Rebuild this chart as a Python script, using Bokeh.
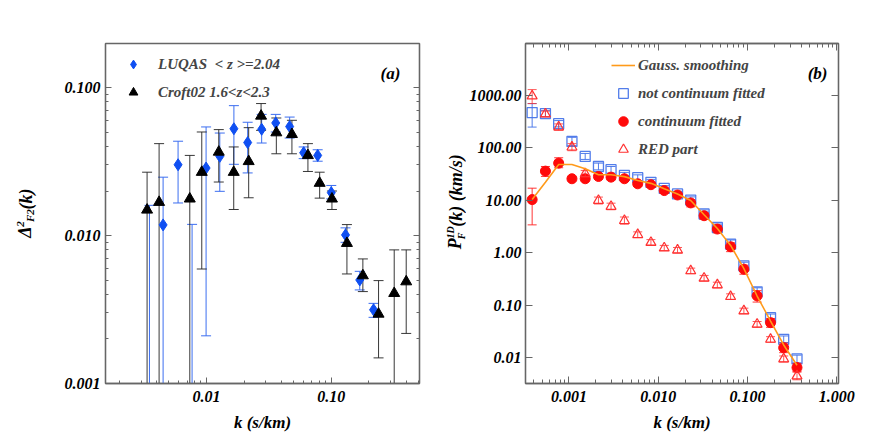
import math
from bokeh.plotting import figure
from bokeh.models import (FixedTicker, LogAxis, CustomJSTickFormatter, Label,
                          Legend, LegendItem, Range1d)
from bokeh.layouts import row
from bokeh.embed import file_html
from bokeh.resources import INLINE

# ---------------- data: panel (a) ----------------
luqas_k = [0.00350, 0.00450, 0.00593, 0.00768, 0.00994, 0.0128, 0.0166, 0.0214, 0.0277,
           0.0359, 0.0464, 0.0601, 0.0778, 0.100, 0.130, 0.169, 0.218]
luqas_d = [0.0004, 0.0118, 0.0301, 0.0004, 0.0286, 0.0343, 0.0527, 0.0425, 0.0523,
           0.0577, 0.0545, 0.0363, 0.0348, 0.0195, 0.0101, 0.00501, 0.00315]
luqas_lo = [0.0001, 0.0001, 0.0166, 0.0001, 0.0021, 0.0199, 0.0303, 0.0265, 0.0422,
            0.0501, 0.0456, 0.0331, 0.0318, 0.0177, 0.0090, 0.00429, 0.00280]
luqas_hi = [0.0160, 0.0248, 0.0434, 0.0119, 0.0542, 0.0493, 0.0755, 0.0583, 0.0659,
            0.0659, 0.0632, 0.0397, 0.0380, 0.0218, 0.01127, 0.00573, 0.00348]

croft_k = [0.00335, 0.00418, 0.00736, 0.00918, 0.01256, 0.01655, 0.0218, 0.0274, 0.0363,
           0.0484, 0.0650, 0.0807, 0.1012, 0.1334, 0.179, 0.239, 0.319, 0.398]
croft_d = [0.0149, 0.0168, 0.0177, 0.0268, 0.0367, 0.0268, 0.0317, 0.0643, 0.0496,
           0.0483, 0.0348, 0.0226, 0.0177, 0.00887, 0.00536, 0.00295, 0.00407, 0.00488]
croft_lo = [0.0001, 0.0001, 0.0001, 0.00594, 0.0230, 0.0150, 0.0180, 0.0514, 0.0357,
            0.0357, 0.0271, 0.0179, 0.0150, 0.0055, 0.00418, 0.00149, 0.0001, 0.00218]
croft_hi = [0.0268, 0.0418, 0.0348, 0.0501, 0.0520, 0.0397, 0.0536, 0.0780, 0.0623,
            0.0601, 0.0418, 0.0268, 0.0200, 0.01186, 0.00695, 0.00496, 0.0080, 0.0080]

# ---------------- data: panel (b) ----------------
pk_k = [0.000387, 0.000545, 0.000767, 0.00108, 0.00152, 0.00214, 0.00296, 0.00418,
        0.00589, 0.00828, 0.01167, 0.01644, 0.0231, 0.0326, 0.0459, 0.0646, 0.0910,
        0.128, 0.181, 0.254, 0.358]
raw_p = [468, 448, 288, 132, 68.5, 44, 38.2, 29.7, 26.9, 22.0, 16.8, 13.2, 10.1, 5.47,
         3.03, 1.46, 0.563, 0.180, 0.058, 0.0224, 0.0095]
raw_lo = [248, 390, 250, 110, 60, 38, 33, 26, 23.5, 19.5, 15, 11.8, 8.8, 4.8, 2.6, 1.2,
          0.47, 0.15, 0.05, 0.0195, 0.008]
raw_hi = [695, 510, 330, 158, 78, 51, 44, 34, 30.5, 25, 19, 14.8, 11.6, 6.2, 3.5, 1.75,
          0.66, 0.215, 0.068, 0.026, 0.0112]
fit_p = [10.3, 35.9, 51, 25.7, 25.7, 28.4, 27.6, 25.7, 20.6, 19.8, 15.3, 12.6, 8.9, 5.08,
         2.83, 1.30, 0.487, 0.151, 0.0466, 0.0155, 0.0065]
fit_lo = [3.4, 28.5, 41.7, 23.5, 23.5, 25, 24.5, 23, 18.5, 17.5, 13.8, 11.3, 7.5, 4.4,
          2.4, 1.05, 0.39, 0.115, 0.038, 0.0125, 0.0055]
fit_hi = [17.0, 44, 64.6, 28, 28, 32, 31, 29, 23, 22, 17, 14, 10.3, 5.8, 3.3, 1.55,
          0.58, 0.19, 0.056, 0.019, 0.0078]
red_p = [970, 440, 248, 103, 32, 9.9, 7.6, 4.1, 2.21, 1.57, 1.23, 1.12, 0.452, 0.327,
         0.244, 0.146, 0.078, 0.0433, 0.0224, 0.0095, 0.0045]
red_lo = [695, 390, 215, 88, 28, 8.5, 6.6, 3.5, 1.95, 1.4, 1.1, 1.0, 0.40, 0.29, 0.215,
          0.13, 0.069, 0.038, 0.0198, 0.0083, 0.0038]
red_hi = [1284, 500, 285, 120, 37, 11.5, 8.8, 4.8, 2.5, 1.78, 1.38, 1.26, 0.51, 0.37,
          0.275, 0.165, 0.088, 0.049, 0.0252, 0.0108, 0.0053]
smooth_p = [10.3, 22, 48, 48, 40, 30.6, 30.6, 28.2, 23.9, 21.0, 16.5, 13.2, 9.9, 5.3,
            2.9, 1.38, 0.50, 0.150, 0.050, 0.0175, 0.0072]

# tick values
a_xticks = [0.01, 0.1]
a_yticks = [0.001, 0.01, 0.1]
b_xticks = [0.001, 0.01, 0.1, 1.0]
b_yticks = [0.01, 0.1, 1, 10, 100, 1000]

FONT = "Liberation Serif"
STYLE = "bold italic"
FRAME_COL = "#666666"
H = 436


def minors(lo_exp, hi_exp):
    return [m * 10.0 ** e for e in range(lo_exp, hi_exp) for m in range(2, 10)]


def make_fig(width, xr, yr, bl, br):
    p = figure(width=width, height=H, x_axis_type="log", y_axis_type="log",
               x_range=Range1d(*xr), y_range=Range1d(*yr),
               output_backend="svg", toolbar_location=None,
               min_border_left=bl, min_border_right=br, min_border_top=43,
               min_border_bottom=53)
    p.xgrid.visible = False
    p.ygrid.visible = False
    p.outline_line_color = FRAME_COL
    p.outline_line_width = 1.3
    p.background_fill_color = "white"
    p.border_fill_color = "white"
    return p


def strip_fig(x0, x1):
    # narrow text-only canvas whose data units are page pixels
    s = figure(width=x1 - x0, height=H, x_range=Range1d(x0, x1), y_range=Range1d(H, 0),
               output_backend="svg", toolbar_location=None,
               x_axis_location=None, y_axis_location=None,
               min_border_left=0, min_border_right=0, min_border_top=0,
               min_border_bottom=0)
    s.xgrid.visible = False
    s.ygrid.visible = False
    s.outline_line_color = None
    s.background_fill_color = "white"
    s.border_fill_color = "white"
    return s


def style_axis(ax, ticker, fmt, standoff, major_len=6, minor_len=3):
    ax.ticker = ticker
    ax.formatter = CustomJSTickFormatter(code=fmt)
    ax.major_tick_in = major_len
    ax.major_tick_out = 0
    ax.minor_tick_in = minor_len
    ax.minor_tick_out = 0
    ax.axis_line_color = FRAME_COL
    ax.axis_line_width = 1.3
    ax.major_tick_line_color = FRAME_COL
    ax.minor_tick_line_color = FRAME_COL
    ax.major_label_text_font = FONT
    ax.major_label_text_font_style = STYLE
    ax.major_label_text_font_size = "16px"
    ax.major_label_text_color = "black"
    ax.major_label_standoff = standoff
    ax.axis_label = None


def x_title(ax, text):
    ax.axis_label = text
    ax.axis_label_text_font = FONT
    ax.axis_label_text_font_style = STYLE
    ax.axis_label_text_font_size = "17px"
    ax.axis_label_text_color = "black"
    ax.axis_label_standoff = 8


def err_bars(p, k, lo, hi, color, alpha=1.0, cap=10):
    p.segment(x0=k, y0=lo, x1=k, y1=hi, line_color=color, line_width=1, line_alpha=alpha)
    p.scatter(x=k, y=lo, marker="dash", size=cap, line_color=color, line_width=1, line_alpha=alpha)
    p.scatter(x=k, y=hi, marker="dash", size=cap, line_color=color, line_width=1, line_alpha=alpha)


class Geo:
    def __init__(self, xr, yr, left, top, w, h):
        self.lx0, self.lx1 = math.log10(xr[0]), math.log10(xr[1])
        self.ly0, self.ly1 = math.log10(yr[0]), math.log10(yr[1])
        self.left, self.top, self.w, self.h = left, top, w, h

    def x(self, px):
        return 10 ** (self.lx0 + (px - self.left) / self.w * (self.lx1 - self.lx0))

    def y(self, py):
        return 10 ** (self.ly1 - (py - self.top) / self.h * (self.ly1 - self.ly0))


class PixGeo:
    def x(self, px):
        return px

    def y(self, py):
        return py


def add_text(p, g, px, py, text, size, align="center", angle=0.0):
    p.add_layout(Label(x=g.x(px), y=g.y(py), text=text, text_font=FONT,
                       text_font_style=STYLE, text_font_size=f"{size}px",
                       text_align=align, text_baseline="middle", text_color="black",
                       angle=angle))


UP = math.pi / 2
pix = PixGeo()

# ================= y-label strip for panel (a) =================
sa = strip_fig(0, 56)
add_text(sa, pix, 24, 249, "Δ", 18, align="left", angle=UP)
add_text(sa, pix, 19.5, 235, "2", 11, align="left", angle=UP)
add_text(sa, pix, 29, 229, "F2", 11, align="left", angle=UP)
add_text(sa, pix, 25, 213, "(k)", 18, align="left", angle=UP)

# ================= panel (a) =================
xa = (0.001556, 0.5085)
ya = (0.001, 0.1986)
pa = make_fig(384, xa, ya, 49, 21)
ga = Geo(xa, ya, 105, 43, 314, 340)

style_axis(pa.xaxis[0], FixedTicker(ticks=a_xticks, minor_ticks=minors(-3, 0)),
           "return tick.toFixed(2)", 7)
x_title(pa.xaxis[0], "k (s/km)")
style_axis(pa.yaxis[0], FixedTicker(ticks=a_yticks, minor_ticks=minors(-3, 0)),
           "return tick.toFixed(3)", 5)
ra = LogAxis()
style_axis(ra, FixedTicker(ticks=a_yticks, minor_ticks=minors(-3, 0)), "return ''", 0)
pa.add_layout(ra, "right")

err_bars(pa, luqas_k, luqas_lo, luqas_hi, "#3c6ef0")
err_bars(pa, croft_k, croft_lo, croft_hi, "#222222", 0.9)
r_luqas = pa.scatter(x=luqas_k, y=luqas_d, marker="diamond", size=12,
                     fill_color="#0f4ff2", line_color="#0f4ff2")
r_croft = pa.scatter(x=croft_k, y=croft_d, marker="triangle", size=11,
                     fill_color="black", line_color="black")

leg_a = Legend(items=[LegendItem(label="LUQAS  < z >=2.04", renderers=[r_luqas]),
                      LegendItem(label="Croft02 1.6<z<2.3", renderers=[r_croft])],
               location=(16, 278), padding=0, margin=0, spacing=2,
               glyph_width=24, glyph_height=22, label_height=26, label_standoff=13,
               label_text_font=FONT, label_text_font_style=STYLE,
               label_text_font_size="15px", border_line_color=None,
               background_fill_alpha=0)
pa.add_layout(leg_a)
add_text(pa, ga, 390, 73, "(a)", 17)

# ================= y-label strip for panel (b) =================
sb = strip_fig(440, 466)
add_text(sb, pix, 454.5, 264, "P", 18, align="left", angle=UP)
add_text(sb, pix, 449.5, 250, "1D", 10, align="left", angle=UP)
add_text(sb, pix, 461, 251, "F", 10, align="left", angle=UP)
add_text(sb, pix, 455, 235, "(k) (km/s)", 18, align="left", angle=UP)

# ================= panel (b) =================
xb = (0.000326, 1.044)
yb = (0.00323, 9700)
pb = make_fig(406, xb, yb, 58, 34)
gb = Geo(xb, yb, 524, 43, 314, 340)

style_axis(pb.xaxis[0], FixedTicker(ticks=b_xticks, minor_ticks=minors(-4, 1)),
           "return tick.toFixed(3)", 7, major_len=7, minor_len=4)
x_title(pb.xaxis[0], "k (s/km)")
style_axis(pb.yaxis[0], FixedTicker(ticks=b_yticks, minor_ticks=[]),
           "return tick.toFixed(2)", 4, major_len=7)
tb = LogAxis()
style_axis(tb, FixedTicker(ticks=b_xticks, minor_ticks=minors(-4, 1)), "return ''", 0,
           major_len=7, minor_len=4)
pb.add_layout(tb, "above")
rb = LogAxis()
style_axis(rb, FixedTicker(ticks=b_yticks, minor_ticks=[]), "return ''", 0, major_len=7)
pb.add_layout(rb, "right")

err_bars(pb, pk_k, raw_lo, raw_hi, "#3f6fe8", 0.9, cap=9)
r_raw = pb.scatter(x=pk_k, y=raw_p, marker="square", size=10, fill_color=None,
                   line_color="#3f6fe8", line_width=1.3, line_alpha=0.9)
err_bars(pb, pk_k, fit_lo, fit_hi, "#ff2020", 0.9, cap=9)
r_fit = pb.scatter(x=pk_k, y=fit_p, marker="circle", size=10, fill_color="#ff0a0a",
                   line_color="#ff0a0a")
err_bars(pb, pk_k, red_lo, red_hi, "#ff3030", 0.8, cap=9)
r_red = pb.scatter(x=pk_k, y=red_p, marker="triangle", size=10, fill_color=None,
                   line_color="#ff3030", line_width=1.2)
r_smooth = pb.line(x=pk_k, y=smooth_p, line_color="#ff9a1a", line_width=1.6)

leg_b = Legend(items=[LegendItem(label="Gauss. smoothing", renderers=[r_smooth]),
                      LegendItem(label="not continuum fitted", renderers=[r_raw]),
                      LegendItem(label="continuum fitted", renderers=[r_fit]),
                      LegendItem(label="RED part", renderers=[r_red])],
               location=(86, 221), padding=0, margin=0, spacing=2,
               glyph_width=24, glyph_height=26, label_height=26, label_standoff=3,
               label_text_font=FONT, label_text_font_style=STYLE,
               label_text_font_size="15px", border_line_color=None,
               background_fill_alpha=0)
pb.add_layout(leg_b)
add_text(pb, gb, 817, 73, "(b)", 17)

layout = row(sa, pa, sb, pb)
open("out.html", "w").write(file_html(layout, INLINE))
